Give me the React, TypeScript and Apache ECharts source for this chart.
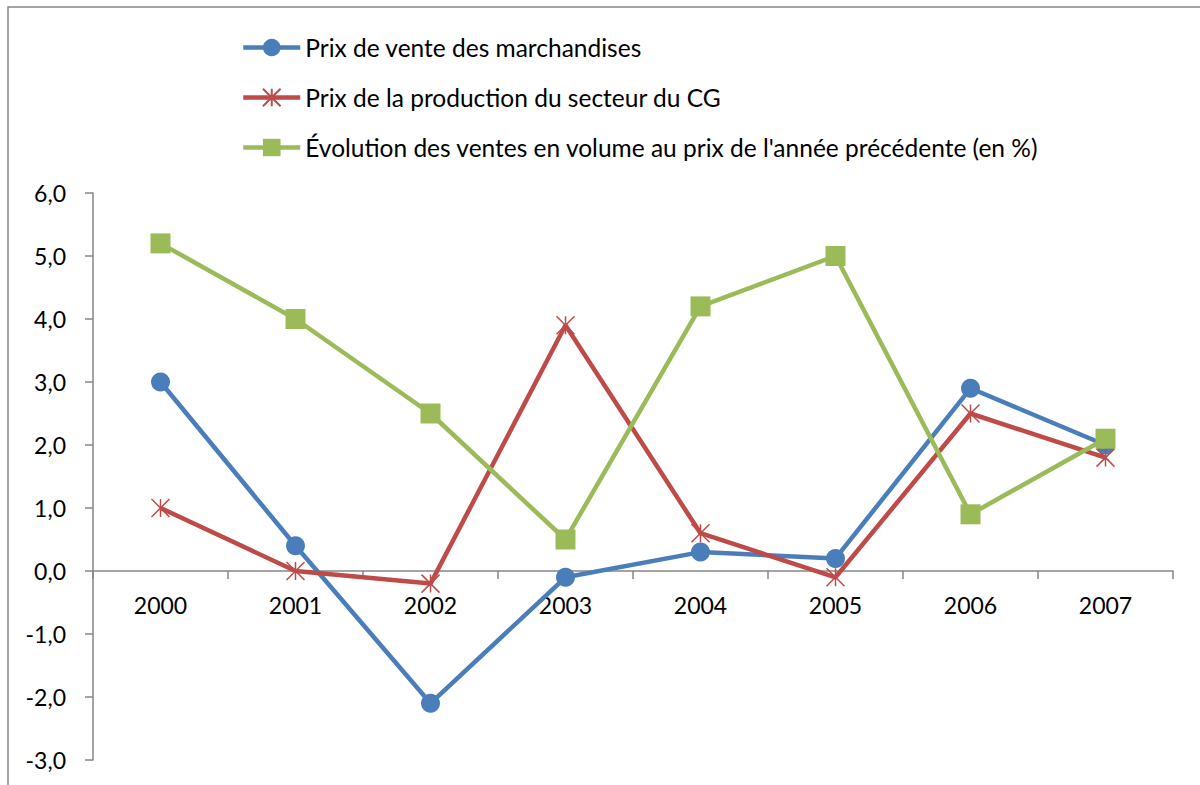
import React, { useEffect, useRef } from "react";
import * as echarts from "echarts";

const categories = ["2000", "2001", "2002", "2003", "2004", "2005", "2006", "2007"];
const seriesNames = [
  "Prix de vente des marchandises",
  "Prix de la production du secteur du CG",
  "Évolution des ventes en volume au prix de l'année précédente (en %)",
];
const prixVente = [3.0, 0.4, -2.1, -0.1, 0.3, 0.2, 2.9, 2.0];
const prixProduction = [1.0, 0.0, -0.2, 3.9, 0.6, -0.1, 2.5, 1.8];
const evolutionVentes = [5.2, 4.0, 2.5, 0.5, 4.2, 5.0, 0.9, 2.1];

const FONT = "Lato, 'Open Sans', sans-serif";
const STAR = "path://M0,0L10,10M10,0L0,10M5,0L5,10";

export default function App() {
  const ref = useRef<HTMLDivElement>(null);
  useEffect(() => {
    if (!ref.current) return;
    const chart = echarts.init(ref.current, null, { renderer: "svg" });
    chart.setOption({
      animation: false,
      backgroundColor: "#ffffff",
      textStyle: { fontFamily: FONT },
      graphic: [
        {
          type: "rect",
          shape: { x: 8, y: 7, width: 1400, height: 1000 },
          style: { fill: "none", stroke: "#868686", lineWidth: 1.5 },
          silent: true,
        },
      ],
      legend: {
        orient: "vertical",
        left: 241,
        top: 35,
        padding: 0,
        itemWidth: 57,
        itemHeight: 22,
        itemGap: 25,
        lineStyle: { width: 4.5 },
        textStyle: { fontSize: 24.5, color: "#000", fontFamily: FONT },
        data: seriesNames,
      },
      grid: { left: 93, right: 27, top: 193, bottom: 25, containLabel: false, outerBoundsMode: "none" },
      xAxis: {
        type: "category",
        data: categories,
        boundaryGap: true,
        position: "bottom",
        offset: -189,
        axisLine: { onZero: false, lineStyle: { color: "#868686", width: 1.5 } },
        axisTick: { show: true, interval: 0, length: 8, lineStyle: { color: "#868686", width: 1.5 } },
        axisLabel: { fontSize: 23, color: "#000", margin: 22, fontFamily: FONT },
        splitLine: { show: false },
      },
      yAxis: {
        type: "value",
        min: -3,
        max: 6,
        interval: 1,
        axisLine: { show: true, lineStyle: { color: "#868686", width: 1.5 } },
        axisTick: { show: true, length: 8, lineStyle: { color: "#868686", width: 1.5 } },
        axisLabel: {
          fontSize: 23,
          color: "#000",
          margin: 27,
          fontFamily: FONT,
          formatter: (v: number) => v.toFixed(1).replace(".", ","),
        },
        splitLine: { show: false },
      },
      series: [
        {
          name: seriesNames[0],
          type: "line",
          data: prixVente,
          symbol: "circle",
          symbolSize: 19,
          lineStyle: { color: "#4A7EBB", width: 4.5 },
          itemStyle: { color: "#4A7EBB" },
        },
        {
          name: seriesNames[1],
          type: "line",
          data: prixProduction,
          symbol: STAR,
          symbolSize: 18,
          lineStyle: { color: "#BE4B48", width: 4.5 },
          itemStyle: { color: "#BE4B48", borderColor: "#BE4B48", borderWidth: 1.5 },
        },
        {
          name: seriesNames[2],
          type: "line",
          data: evolutionVentes,
          symbol: "rect",
          symbolSize: 20,
          lineStyle: { color: "#9BBB59", width: 4.5 },
          itemStyle: { color: "#9BBB59" },
        },
      ],
    });
    return () => chart.dispose();
  }, []);
  return (
    <div
      ref={ref}
      style={{ position: "absolute", left: 0, top: 0, width: 1200, height: 785 }}
    />
  );
}
